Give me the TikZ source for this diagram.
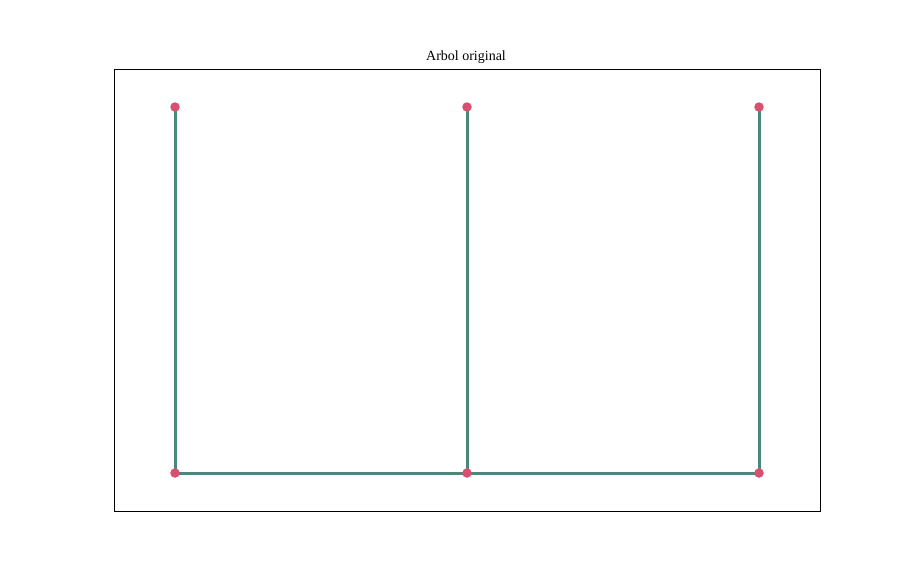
\documentclass[tikz,border=0pt]{standalone}
\usepackage{fontspec}
\setmainfont{Liberation Serif}
\usetikzlibrary{positioning}
\definecolor{arbEdge}{HTML}{4A887B}
\definecolor{arbNode}{HTML}{D9506E}
\tikzset{
  vert/.style={circle, fill=arbNode, inner sep=0pt, minimum size=9.5pt},
  edge/.style={draw=arbEdge, line width=3pt},
  frame/.style={draw=black, line width=0.8pt},
  ttl/.style={font=\fontsize{14}{16}\selectfont},
}
\begin{document}
\begin{tikzpicture}[x=1pt,y=-1pt]
    \useasboundingbox (0,0) rectangle (911,574);
    \draw[frame] (114,69) rectangle (820,511);
    \node[ttl] (title) at (466,57.5) {Arbol original};
    % vertices
    \foreach \name/\x/\y in {a/175/107, b/467/107, c/759/107,
                             d/175/473, e/467/473, f/759/473}{
      \coordinate (\name) at (\x,\y);
    }
    \draw[edge] (a) -- (d);
    \draw[edge] (b) -- (e);
    \draw[edge] (c) -- (f);
    \draw[edge] (d) -- (e);
    \draw[edge] (e) -- (f);
    \foreach \name in {a,b,c,d,e,f}{
      \node[vert] (v\name) at (\name) {};
    }
\end{tikzpicture}
\end{document}
